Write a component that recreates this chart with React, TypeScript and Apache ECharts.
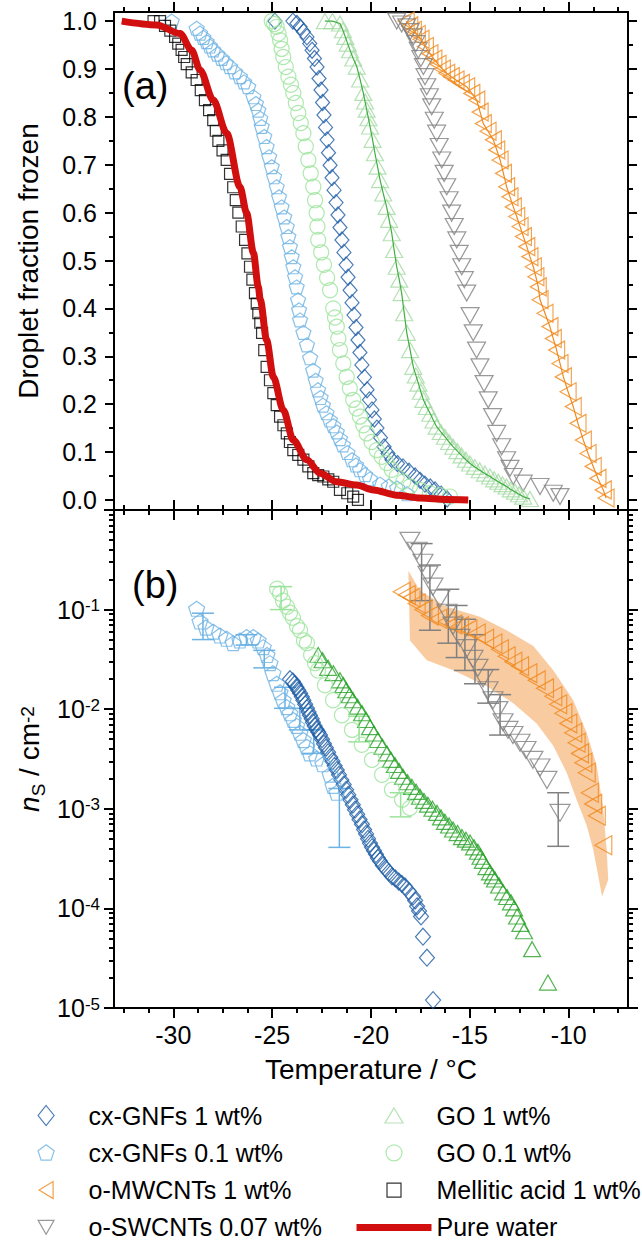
import React, { useEffect, useRef } from 'react';
import * as echarts from 'echarts';

const FONT = '"Liberation Sans", Arial, Helvetica, sans-serif';

// ---------------- tick values ----------------
const xMajorTicks = [-30, -25, -20, -15, -10];
const xMinorTicks = [-32.5, -31.25, -30, -28.75, -27.5, -26.25, -25, -23.75, -22.5, -21.25, -20, -18.75, -17.5, -16.25, -15, -13.75, -12.5, -11.25, -10, -8.75, -7.5];
const fracMajorTicks = [0, 0.1, 0.2, 0.3, 0.4, 0.5, 0.6, 0.7, 0.8, 0.9, 1.0];
const fracMinorTicks = [0.05, 0.15, 0.25, 0.35, 0.45, 0.55, 0.65, 0.75, 0.85, 0.95];
const nsDecades = [-5, -4, -3, -2, -1];
const nsMinorMantissas = [2, 3, 4, 5, 6, 7, 8, 9];

// ---------------- series names ----------------
const N_CX1 = 'cx-GNFs 1 wt%';
const N_CX01 = 'cx-GNFs 0.1 wt%';
const N_MW = 'o-MWCNTs 1 wt%';
const N_SW = 'o-SWCNTs 0.07 wt%';
const N_GO1 = 'GO 1 wt%';
const N_GO01 = 'GO 0.1 wt%';
const N_MA = 'Mellitic acid 1 wt%';
const N_PW = 'Pure water';

// ---------------- panel (a): [T (°C), droplet fraction frozen] ----------------
const cxGnf1A = [[-24.86,1.0],[-23.95,1.0],[-23.75,0.995],[-23.59,0.988],[-23.42,0.978],[-23.24,0.967],[-23.10,0.953],[-22.98,0.939],[-22.86,0.922],[-22.73,0.904],[-22.63,0.880],[-22.53,0.856],[-22.45,0.830],[-22.38,0.804],[-22.30,0.778],[-22.22,0.752],[-22.15,0.725],[-22.07,0.699],[-21.97,0.673],[-21.87,0.647],[-21.77,0.621],[-21.67,0.595],[-21.57,0.569],[-21.47,0.543],[-21.37,0.517],[-21.26,0.491],[-21.16,0.465],[-21.06,0.438],[-20.96,0.412],[-20.86,0.386],[-20.76,0.360],[-20.66,0.334],[-20.56,0.308],[-20.46,0.282],[-20.33,0.256],[-20.20,0.230],[-20.08,0.209],[-19.95,0.188],[-19.83,0.169],[-19.70,0.150],[-19.52,0.130],[-19.34,0.111],[-19.14,0.097],[-18.94,0.084],[-18.66,0.076],[-18.38,0.069],[-18.08,0.060],[-17.77,0.050],[-17.52,0.041],[-17.27,0.033],[-17.00,0.027],[-16.76,0.021],[-16.45,0.012],[-16.15,0.002]];

const cxGnf01A = [[-30.08,1.0],[-28.82,0.985],[-28.65,0.975],[-28.48,0.966],[-28.31,0.957],[-28.15,0.948],[-27.98,0.940],[-27.77,0.931],[-27.55,0.922],[-27.34,0.913],[-27.13,0.905],[-26.88,0.894],[-26.63,0.884],[-26.42,0.873],[-26.21,0.863],[-25.95,0.842],[-25.82,0.828],[-25.70,0.814],[-25.60,0.797],[-25.53,0.780],[-25.40,0.759],[-25.28,0.738],[-25.15,0.717],[-25.02,0.696],[-24.90,0.675],[-24.77,0.654],[-24.65,0.633],[-24.52,0.612],[-24.39,0.591],[-24.26,0.571],[-24.18,0.550],[-24.10,0.529],[-24.01,0.508],[-23.93,0.487],[-23.84,0.466],[-23.76,0.445],[-23.69,0.418],[-23.64,0.397],[-23.59,0.376],[-23.42,0.350],[-23.24,0.324],[-23.08,0.297],[-22.93,0.271],[-22.80,0.250],[-22.68,0.230],[-22.55,0.214],[-22.43,0.198],[-22.25,0.182],[-22.08,0.167],[-21.90,0.155],[-21.73,0.142],[-21.57,0.128],[-21.42,0.115],[-21.19,0.099],[-20.96,0.084],[-20.76,0.073],[-20.56,0.063],[-20.30,0.053],[-20.05,0.044],[-19.54,0.033],[-19.10,0.029],[-18.68,0.025],[-18.18,0.013]];

const mwA = [[-18.22,1.0],[-18.04,0.990],[-17.86,0.981],[-17.66,0.972],[-17.47,0.962],[-17.25,0.947],[-17.02,0.932],[-16.82,0.921],[-16.61,0.910],[-16.39,0.900],[-16.17,0.891],[-15.94,0.884],[-15.70,0.877],[-15.43,0.870],[-15.16,0.863],[-14.90,0.849],[-14.65,0.835],[-14.48,0.810],[-14.32,0.786],[-14.08,0.770],[-13.81,0.752],[-13.64,0.731],[-13.47,0.710],[-13.30,0.682],[-13.14,0.654],[-12.97,0.633],[-12.80,0.612],[-12.63,0.592],[-12.46,0.571],[-12.29,0.550],[-12.12,0.529],[-11.96,0.508],[-11.79,0.487],[-11.66,0.466],[-11.54,0.445],[-11.45,0.418],[-11.20,0.390],[-10.95,0.362],[-10.78,0.337],[-10.61,0.313],[-10.44,0.285],[-10.27,0.257],[-10.03,0.226],[-9.77,0.195],[-9.53,0.160],[-9.26,0.125],[-9.02,0.097],[-8.76,0.070],[-8.52,0.045],[-8.25,0.021],[-8.11,0.004]];

const swA = [[-18.70,1.0],[-18.45,0.994],[-18.19,0.988],[-18.02,0.978],[-17.86,0.967],[-17.73,0.953],[-17.61,0.939],[-17.48,0.922],[-17.35,0.905],[-17.27,0.884],[-17.18,0.863],[-17.05,0.842],[-16.93,0.821],[-16.80,0.793],[-16.68,0.766],[-16.55,0.738],[-16.42,0.710],[-16.30,0.682],[-16.17,0.654],[-16.05,0.627],[-15.92,0.599],[-15.79,0.571],[-15.66,0.543],[-15.54,0.515],[-15.41,0.487],[-15.28,0.460],[-15.16,0.432],[-14.99,0.385],[-14.83,0.349],[-14.66,0.313],[-14.49,0.278],[-14.28,0.243],[-14.07,0.209],[-13.85,0.174],[-13.64,0.139],[-13.39,0.111],[-13.14,0.084],[-12.97,0.066],[-12.80,0.049],[-12.30,0.035],[-11.45,0.028],[-10.78,0.014],[-10.44,0.007]];

const go1A = [[-22.33,1.0],[-21.95,1.0],[-21.57,0.995],[-21.42,0.981],[-21.30,0.967],[-21.18,0.953],[-21.06,0.939],[-20.90,0.922],[-20.72,0.905],[-20.55,0.878],[-20.39,0.850],[-20.30,0.832],[-20.22,0.815],[-20.13,0.797],[-20.05,0.780],[-19.92,0.752],[-19.80,0.724],[-19.67,0.696],[-19.54,0.668],[-19.38,0.640],[-19.21,0.612],[-19.08,0.585],[-18.95,0.557],[-18.83,0.522],[-18.70,0.487],[-18.57,0.460],[-18.45,0.432],[-18.32,0.390],[-18.19,0.349],[-18.02,0.313],[-17.86,0.278],[-17.73,0.260],[-17.60,0.243],[-17.48,0.226],[-17.35,0.209],[-17.18,0.194],[-17.00,0.180],[-16.84,0.166],[-16.68,0.153],[-16.47,0.142],[-16.26,0.132],[-16.05,0.121],[-15.84,0.111],[-15.63,0.102],[-15.42,0.093],[-15.20,0.084],[-14.99,0.076],[-14.75,0.069],[-14.50,0.062],[-14.24,0.055],[-13.98,0.049],[-13.77,0.043],[-13.56,0.038],[-13.35,0.033],[-13.14,0.028],[-12.93,0.022],[-12.72,0.017],[-12.51,0.012],[-12.30,0.007],[-11.96,0.002]];

const go01A = [[-25.02,1.0],[-24.90,0.994],[-24.77,0.988],[-24.68,0.974],[-24.60,0.960],[-24.52,0.942],[-24.44,0.925],[-24.31,0.904],[-24.18,0.884],[-24.05,0.867],[-23.93,0.850],[-23.80,0.829],[-23.68,0.808],[-23.55,0.787],[-23.42,0.766],[-23.30,0.738],[-23.17,0.710],[-23.05,0.682],[-22.92,0.654],[-22.83,0.626],[-22.75,0.599],[-22.71,0.571],[-22.67,0.543],[-22.52,0.517],[-22.38,0.491],[-22.22,0.464],[-22.07,0.438],[-21.91,0.400],[-21.82,0.381],[-21.73,0.362],[-21.65,0.337],[-21.57,0.313],[-21.40,0.285],[-21.23,0.257],[-21.07,0.233],[-20.90,0.209],[-20.73,0.191],[-20.56,0.174],[-20.39,0.156],[-20.22,0.139],[-19.97,0.121],[-19.71,0.104],[-19.46,0.090],[-19.21,0.077],[-18.95,0.063],[-18.70,0.049],[-18.37,0.038],[-18.03,0.028],[-17.52,0.021],[-17.02,0.014],[-16.50,0.010],[-16.01,0.007]];

const maA = [[-31.00,1.0],[-30.67,1.0],[-30.42,0.990],[-30.15,0.980],[-29.91,0.967],[-29.75,0.953],[-29.58,0.940],[-29.45,0.925],[-29.32,0.910],[-29.07,0.893],[-28.82,0.877],[-28.61,0.856],[-28.40,0.835],[-28.19,0.814],[-27.98,0.793],[-27.85,0.771],[-27.72,0.750],[-27.51,0.730],[-27.30,0.710],[-27.13,0.681],[-26.97,0.653],[-26.84,0.626],[-26.71,0.600],[-26.54,0.571],[-26.37,0.543],[-26.25,0.515],[-26.12,0.487],[-26.00,0.460],[-25.87,0.432],[-25.78,0.410],[-25.70,0.390],[-25.60,0.370],[-25.51,0.349],[-25.40,0.313],[-25.28,0.278],[-25.11,0.250],[-24.94,0.223],[-24.77,0.198],[-24.60,0.174],[-24.43,0.156],[-24.26,0.139],[-24.10,0.121],[-23.93,0.104],[-23.68,0.094],[-23.42,0.084],[-23.17,0.070],[-22.92,0.056],[-22.67,0.052],[-22.41,0.049],[-22.16,0.043],[-21.91,0.038],[-21.57,0.021],[-21.20,0.014],[-20.90,0.007],[-20.66,0.0]];

const pwA = [[-32.61,1.0],[-30.84,0.992],[-29.66,0.974],[-29.07,0.939],[-28.65,0.898],[-27.98,0.835],[-27.30,0.766],[-26.63,0.654],[-26.29,0.599],[-25.95,0.516],[-25.70,0.445],[-25.60,0.418],[-25.28,0.334],[-24.94,0.257],[-24.44,0.188],[-23.93,0.125],[-23.25,0.084],[-22.58,0.056],[-21.74,0.038],[-20.72,0.031],[-19.88,0.021],[-18.70,0.010],[-17.52,0.004],[-16.17,0.001],[-15.08,0.0]];

// ---------------- panel (b): [T (°C), n_s (cm^-2)] ----------------
const cxGnf01B = [[-28.82,0.102],[-28.65,0.076],[-28.35,0.066],[-27.98,0.060],[-27.64,0.055],[-27.30,0.051],[-26.97,0.046],[-26.63,0.049],[-26.29,0.053],[-25.95,0.053],[-25.71,0.049],[-25.45,0.042],[-25.26,0.035],[-25.11,0.029],[-24.96,0.023],[-24.77,0.018],[-24.60,0.0148],[-24.44,0.0123],[-24.26,0.0105],[-24.10,0.0091],[-23.93,0.0078],[-23.76,0.0068],[-23.59,0.0058],[-23.42,0.0049],[-23.25,0.0042],[-23.09,0.0036],[-22.75,0.0032],[-22.43,0.0028],[-22.07,0.0022],[-21.92,0.0017],[-21.73,0.00145]];

const cxGnf1B = [[-24.10,0.020],[-23.95,0.019],[-23.86,0.0178],[-23.77,0.0166],[-23.68,0.0155],[-23.59,0.0145],[-23.50,0.0133],[-23.42,0.0123],[-23.33,0.0112],[-23.24,0.0102],[-23.16,0.0094],[-23.09,0.0087],[-23.00,0.0080],[-22.94,0.0074],[-22.85,0.0068],[-22.76,0.0063],[-22.67,0.0059],[-22.58,0.0055],[-22.48,0.0050],[-22.38,0.0045],[-22.28,0.0041],[-22.17,0.0037],[-22.06,0.0033],[-21.95,0.0030],[-21.84,0.0027],[-21.73,0.00245],[-21.62,0.0022],[-21.50,0.00195],[-21.38,0.00175],[-21.26,0.00155],[-21.15,0.00138],[-21.04,0.00123],[-20.92,0.0011],[-20.81,0.00098],[-20.70,0.00088],[-20.58,0.00078],[-20.46,0.00070],[-20.35,0.00062],[-20.25,0.00056],[-20.15,0.00050],[-20.05,0.00045],[-19.95,0.00041],[-19.85,0.00038],[-19.75,0.00035],[-19.65,0.00032],[-19.55,0.00030],[-19.40,0.00027],[-19.25,0.00025],[-19.10,0.00023],[-18.94,0.00021],[-18.77,0.00020],[-18.60,0.000186],[-18.44,0.000176],[-18.28,0.000166],[-18.08,0.000148],[-17.87,0.000132],[-17.77,0.00012],[-17.67,0.000105],[-17.57,0.000094],[-17.47,0.000083],[-17.37,0.000052],[-17.17,0.000032],[-16.86,0.000012]];

const go01B = [[-24.75,0.162],[-24.60,0.145],[-24.45,0.123],[-24.25,0.107],[-24.10,0.093],[-23.95,0.083],[-23.74,0.068],[-23.59,0.062],[-23.39,0.049],[-23.24,0.046],[-23.03,0.035],[-22.83,0.029],[-22.68,0.0245],[-22.33,0.0174],[-21.92,0.0123],[-21.47,0.0087],[-20.96,0.0062],[-20.46,0.0044],[-19.95,0.0031],[-19.44,0.0022],[-18.94,0.00155],[-18.43,0.00123],[-18.03,0.00102]];

const go1B = [[-22.67,0.035],[-22.45,0.031],[-22.17,0.026],[-21.90,0.023],[-21.57,0.0195],[-21.40,0.0175],[-21.25,0.0155],[-21.08,0.0138],[-20.91,0.0123],[-20.68,0.0106],[-20.45,0.0091],[-20.25,0.0078],[-20.05,0.0066],[-19.85,0.0057],[-19.65,0.0049],[-19.42,0.0042],[-19.19,0.0036],[-18.99,0.0031],[-18.79,0.00275],[-18.58,0.0024],[-18.38,0.0021],[-18.15,0.00185],[-17.93,0.00166],[-17.72,0.00148],[-17.52,0.00132],[-17.32,0.0012],[-17.12,0.0011],[-16.89,0.0010],[-16.66,0.00091],[-16.46,0.00082],[-16.26,0.00074],[-16.05,0.00068],[-15.85,0.00062],[-15.62,0.00057],[-15.40,0.00052],[-15.20,0.00049],[-14.99,0.00046],[-14.79,0.00041],[-14.59,0.00037],[-14.46,0.00033],[-14.34,0.00030],[-14.16,0.00026],[-13.98,0.00023],[-13.85,0.00021],[-13.73,0.000195],[-13.52,0.00017],[-13.32,0.000145],[-13.12,0.00013],[-12.92,0.000115],[-12.76,0.0001],[-12.61,0.000083],[-12.44,0.00007],[-12.26,0.000059],[-11.85,0.000039],[-11.05,0.000018]];

const swB = [[-18.03,0.49],[-17.67,0.39],[-17.37,0.295],[-17.12,0.224],[-16.87,0.17],[-16.51,0.129],[-16.16,0.093],[-15.85,0.069],[-15.50,0.052],[-15.14,0.041],[-14.84,0.032],[-14.59,0.026],[-14.33,0.0204],[-14.08,0.0155],[-13.83,0.0123],[-13.58,0.0098],[-13.32,0.0074],[-13.07,0.0062],[-12.82,0.0055],[-12.46,0.0046],[-12.16,0.0039],[-11.81,0.0031],[-11.45,0.0026],[-11.10,0.00195],[-10.44,0.00091]];

const mwB = [[-18.45,0.151],[-18.19,0.140],[-17.95,0.132],[-17.69,0.115],[-17.35,0.100],[-17.02,0.087],[-16.60,0.081],[-16.17,0.076],[-15.84,0.071],[-15.50,0.068],[-15.08,0.063],[-14.65,0.0575],[-14.23,0.051],[-13.81,0.0457],[-13.48,0.040],[-13.14,0.034],[-12.80,0.030],[-12.46,0.027],[-12.04,0.023],[-11.62,0.0195],[-11.20,0.0162],[-10.78,0.0135],[-10.53,0.0112],[-10.27,0.0091],[-10.02,0.0072],[-9.77,0.0058],[-9.60,0.0046],[-9.43,0.0036],[-9.26,0.0029],[-9.09,0.0023],[-8.93,0.00145],[-8.76,0.00112],[-8.58,0.00085],[-8.25,0.00043]];

// o-MWCNTs uncertainty band (upper edge incl. tip, lower edge)
const mwBandUpper = [[-18.11,0.245],[-17.52,0.155],[-16.17,0.107],[-14.49,0.085],[-13.14,0.062],[-11.79,0.043],[-10.78,0.0246],[-9.77,0.0123],[-9.09,0.0058],[-8.58,0.0027],[-8.25,0.00098],[-8.08,0.00039],[-8.00,0.000195],[-8.31,0.000132]];
const mwBandLower = [[-18.03,0.049],[-17.18,0.031],[-15.84,0.0246],[-14.15,0.017],[-12.80,0.0115],[-11.62,0.0072],[-10.78,0.0043],[-10.10,0.0023],[-9.60,0.00123],[-9.09,0.00068],[-8.76,0.00039],[-8.52,0.00022]];

// error bars: [T, low, high]
const cxGnf01Err = [[-28.50,0.050,0.092],[-26.30,0.044,0.056],[-25.40,0.026,0.039],[-24.35,0.0102,0.0166],[-23.60,0.0062,0.0102],[-22.90,0.0036,0.0062],[-21.60,0.00041,0.0016]];
const go01Err = [[-24.55,0.100,0.170],[-20.60,0.0047,0.0085],[-18.50,0.00083,0.00145]];
const swErr = [[-17.44,0.123,0.46],[-17.02,0.062,0.28],[-16.09,0.046,0.16],[-15.67,0.033,0.11],[-15.25,0.0245,0.080],[-14.74,0.018,0.056],[-14.07,0.0115,0.025],[-13.47,0.0055,0.014],[-10.53,0.00042,0.00145]];

// ---------------- styling ----------------
const COL = {
  cx1: '#1c5ba4', cx01: '#6cb2e4', mw: '#f08a1d', sw: '#808080',
  go1A: '#a3d9a3', go1Line: '#40ad40', go1B: '#27a127', go01: '#9be39b',
  ma: '#000000', pw: '#d20f0f', band: '#f8c291',
};
const PENTAGON = 'path://M50,0L97.6,34.5L79.4,90.5L20.6,90.5L2.4,34.5Z';
const TRI_LEFT = 'path://M0,50L86.6,0L86.6,100Z';
const TRI_DOWN = 'path://M0,0L100,0L50,86.6Z';

// legend icons drawn inside a 75 x 20 box (zero-length corner segments fix the box)
const BOX = 'M0,0L0,0M75,20L75,20';
const ICON_DIAMOND = `path://${BOX}M37.5,0L45.5,10L37.5,20L29.5,10Z`;
const ICON_PENTAGON = `path://${BOX}M37.5,2L45.6,7.9L42.5,17.4L32.5,17.4L29.4,7.9Z`;
const ICON_TRI_LEFT = `path://${BOX}M30.5,10L44.5,1.5L44.5,18.5Z`;
const ICON_TRI_DOWN = `path://${BOX}M29.5,3L45.5,3L37.5,17Z`;
const ICON_TRI_UP = `path://${BOX}M37.5,2.5L46.5,17.5L28.5,17.5Z`;
const ICON_CIRCLE = `path://${BOX}M29.5,10A8,8 0 1,1 45.5,10A8,8 0 1,1 29.5,10Z`;
const ICON_SQUARE = `path://${BOX}M30.5,3L44.5,3L44.5,17L30.5,17Z`;

function hollow(color: string, w = 1.2) {
  return { color: 'rgba(0,0,0,0)', borderColor: color, borderWidth: w };
}

function scatter(name: string, data: number[][], symbol: string, size: any, color: string, panel: number, extra: any = {}) {
  return {
    type: 'scatter', name, data, symbol, symbolSize: size,
    xAxisIndex: panel === 0 ? 0 : 4, yAxisIndex: panel === 0 ? 0 : 4,
    itemStyle: hollow(color), emphasis: { disabled: true }, silent: true, z: 3, ...extra,
  };
}

function xAx(grid: number, position: string, ticks: number[], len: number, showLine: boolean, extra: any = {}) {
  return {
    type: 'value', gridIndex: grid, position, min: -33, max: -7,
    axisLine: { show: showLine, onZero: false, lineStyle: { color: '#000', width: 2 } },
    axisTick: { show: true, inside: false, length: len, customValues: ticks, lineStyle: { color: '#000', width: 2 } },
    axisLabel: { show: false }, splitLine: { show: false }, silent: true,
    ...extra,
  };
}

function yFrac(position: string, ticks: number[], len: number, showLine: boolean, extra: any = {}) {
  return {
    type: 'value', gridIndex: 0, position, min: -0.021, max: 1.019,
    axisLine: { show: showLine, onZero: false, lineStyle: { color: '#000', width: 2 } },
    axisTick: { show: true, inside: false, length: len, customValues: ticks, lineStyle: { color: '#000', width: 2 } },
    axisLabel: { show: false }, splitLine: { show: false }, silent: true,
    ...extra,
  };
}

function yLog(position: string, extra: any = {}) {
  return {
    type: 'log', logBase: 10, gridIndex: 1, position, min: 0.00001, max: 1,
    axisLine: { show: true, onZero: false, lineStyle: { color: '#000', width: 2 } },
    axisTick: { show: true, inside: false, length: 10, lineStyle: { color: '#000', width: 2 } },
    axisLabel: { show: false }, splitLine: { show: false }, minorTick: { show: false }, silent: true,
    ...extra,
  };
}

function yLogMinor(position: string, ticks: number[]) {
  return {
    type: 'value', gridIndex: 1, position, min: -5, max: 0,
    axisLine: { show: false, onZero: false },
    axisTick: { show: true, inside: false, length: 5, customValues: ticks, lineStyle: { color: '#000', width: 2 } },
    axisLabel: { show: false }, splitLine: { show: false }, silent: true,
  };
}

function errorBars(name: string, data: number[][], color: string) {
  return {
    type: 'custom', name, xAxisIndex: 4, yAxisIndex: 4, data, clip: true, silent: true, z: 2,
    encode: { x: 0, y: [1, 2] },
    renderItem: (_params: any, api: any) => {
      const t = api.value(0);
      const lo = api.coord([t, api.value(1)]);
      const hi = api.coord([t, api.value(2)]);
      const hw = 11;
      const st = { stroke: color, lineWidth: 1.5 };
      return {
        type: 'group',
        children: [
          { type: 'line', shape: { x1: lo[0], y1: lo[1], x2: hi[0], y2: hi[1] }, style: st },
          { type: 'line', shape: { x1: lo[0] - hw, y1: lo[1], x2: lo[0] + hw, y2: lo[1] }, style: st },
          { type: 'line', shape: { x1: hi[0] - hw, y1: hi[1], x2: hi[0] + hw, y2: hi[1] }, style: st },
        ],
      };
    },
  };
}

function buildOption(): any {
  const logMinor: number[] = [];
  nsDecades.forEach((d) => nsMinorMantissas.forEach((m) => logMinor.push(d + Math.log10(m))));

  const supRich = {
    b: { fontSize: 25, fontFamily: FONT, color: '#000', lineHeight: 25, verticalAlign: 'bottom' },
    s: { fontSize: 17, fontFamily: FONT, color: '#000', lineHeight: 17, padding: [0, 0, 14, 0], verticalAlign: 'top' },
  };

  const nameRich = {
    i: { fontSize: 28, fontFamily: FONT, fontStyle: 'italic', color: '#000', lineHeight: 30, padding: [0, 0, 5, 0], verticalAlign: 'bottom' },
    r: { fontSize: 28, fontFamily: FONT, color: '#000', lineHeight: 30, padding: [0, 0, 5, 0], verticalAlign: 'bottom' },
    sub: { fontSize: 19, fontFamily: FONT, color: '#000', lineHeight: 19, verticalAlign: 'bottom' },
    sup: { fontSize: 19, fontFamily: FONT, color: '#000', lineHeight: 19, padding: [0, 0, 26, 0], verticalAlign: 'top' },
  };

  const legendBase = {
    orient: 'vertical', top: 1103, height: 170, padding: 0, itemWidth: 75, itemHeight: 20, itemGap: 12.3,
    selectedMode: false,
    textStyle: { fontSize: 25, fontFamily: FONT, color: '#000', lineHeight: 25 },
    itemStyle: { borderWidth: 1.2 },
  };

  return {
    animation: false,
    backgroundColor: '#ffffff',
    textStyle: { fontFamily: FONT },
    grid: [
      { left: 114, top: 12, width: 514, height: 498, containLabel: false, outerBoundsMode: 'none' },
      { left: 114, top: 510, width: 514, height: 498, containLabel: false, outerBoundsMode: 'none' },
    ],
    xAxis: [
      xAx(0, 'bottom', xMajorTicks, 10, true),
      xAx(0, 'bottom', xMinorTicks, 5, false),
      xAx(0, 'top', xMajorTicks, 10, true),
      xAx(0, 'top', xMinorTicks, 5, false),
      xAx(1, 'bottom', xMajorTicks, 10, true, {
        axisLabel: { show: true, customValues: xMajorTicks, fontSize: 25, fontFamily: FONT, color: '#000', margin: 14, lineHeight: 25 },
        name: 'Temperature / °C', nameLocation: 'middle', nameGap: 47, nameMoveOverlap: false,
        nameTextStyle: { fontSize: 28, fontFamily: FONT, color: '#000', lineHeight: 28 },
      }),
      xAx(1, 'bottom', xMinorTicks, 5, false),
      xAx(1, 'top', xMajorTicks, 10, true),
      xAx(1, 'top', xMinorTicks, 5, false),
    ],
    yAxis: [
      yFrac('left', fracMajorTicks, 9, true, {
        axisLabel: { show: true, customValues: fracMajorTicks, formatter: (v: number) => v.toFixed(1), fontSize: 25, fontFamily: FONT, color: '#000', margin: 17 },
        name: 'Droplet fraction frozen', nameLocation: 'middle', nameGap: 72, nameMoveOverlap: false,
        nameTextStyle: { fontSize: 28, fontFamily: FONT, color: '#000', lineHeight: 28 },
      }),
      yFrac('left', fracMinorTicks, 5, false),
      yFrac('right', fracMajorTicks, 9, true),
      yFrac('right', fracMinorTicks, 5, false),
      yLog('left', {
        axisLabel: {
          show: true, margin: 14,
          formatter: (v: number) => {
            const e = Math.round(Math.log10(v));
            return e === 0 ? '' : `{b|10}{s|${e}}`;
          },
          rich: supRich,
        },
        name: '{i|n}{sub|S}{r| / cm}{sup|-2}', nameLocation: 'middle', nameGap: 66, nameMoveOverlap: false,
        nameTextStyle: { fontSize: 28, fontFamily: FONT, color: '#000', rich: nameRich },
      }),
      yLogMinor('left', logMinor),
      yLog('right'),
      yLogMinor('right', logMinor),
    ],
    legend: [
      {
        ...legendBase, left: 8,
        data: [
          { name: N_CX1, icon: ICON_DIAMOND },
          { name: N_CX01, icon: ICON_PENTAGON },
          { name: N_MW, icon: ICON_TRI_LEFT },
          { name: N_SW, icon: ICON_TRI_DOWN },
        ],
      },
      {
        ...legendBase, left: 353,
        data: [
          { name: N_GO1, icon: ICON_TRI_UP },
          { name: N_GO01, icon: ICON_CIRCLE },
          { name: N_MA, icon: ICON_SQUARE },
          { name: N_PW, lineStyle: { width: 7 }, itemStyle: { opacity: 0, borderWidth: 0 } },
        ],
      },
    ],
    graphic: [
      { type: 'text', left: 122, top: 67, silent: true, style: { text: '(a)', fontSize: 38, fontFamily: FONT, fill: '#000' } },
      { type: 'text', left: 132, top: 566, silent: true, style: { text: '(b)', fontSize: 38, fontFamily: FONT, fill: '#000' } },
    ],
    series: [
      // ---- panel (a)
      scatter(N_CX1, cxGnf1A, 'diamond', [14, 16], COL.cx1, 0),
      scatter(N_CX01, cxGnf01A, PENTAGON, [15, 14], COL.cx01, 0),
      scatter(N_MW, mwA, TRI_LEFT, [16, 18], COL.mw, 0),
      scatter(N_SW, swA, TRI_DOWN, [18, 16], COL.sw, 0),
      scatter(N_GO1, go1A, 'triangle', [17, 15], COL.go1A, 0),
      scatter(N_GO01, go01A, 'circle', 15, COL.go01, 0),
      scatter(N_MA, maA, 'rect', 11, COL.ma, 0),
      {
        type: 'line', name: N_PW, data: pwA, xAxisIndex: 0, yAxisIndex: 0, symbol: 'none',
        smooth: 0.3, smoothMonotone: 'x', lineStyle: { color: COL.pw, width: 7 }, itemStyle: { color: COL.pw },
        z: 6, silent: true, emphasis: { disabled: true },
      },
      {
        type: 'line', name: 'GO 1 wt% trace', data: go1A, xAxisIndex: 0, yAxisIndex: 0, symbol: 'none',
        lineStyle: { color: COL.go1Line, width: 1.2 }, z: 4, silent: true, emphasis: { disabled: true },
      },
      {
        type: 'line', name: 'o-MWCNTs trace', data: mwA, xAxisIndex: 0, yAxisIndex: 0, symbol: 'none',
        lineStyle: { color: COL.mw, width: 1.2 }, z: 4, silent: true, emphasis: { disabled: true },
      },
      // ---- panel (b)
      {
        type: 'custom', name: 'o-MWCNTs band', xAxisIndex: 4, yAxisIndex: 4, clip: true, silent: true, z: 1,
        data: [mwBandUpper[0]], encode: { x: 0, y: 1 },
        renderItem: (_params: any, api: any) => {
          const pts = mwBandUpper.map((p) => api.coord(p)).concat(mwBandLower.slice().reverse().map((p) => api.coord(p)));
          return { type: 'polygon', shape: { points: pts }, style: { fill: COL.band, opacity: 0.85 } };
        },
      },
      errorBars('cx-GNFs 0.1 err', cxGnf01Err, COL.cx01),
      errorBars('GO 0.1 err', go01Err, COL.go01),
      errorBars('o-SWCNTs err', swErr, COL.sw),
      scatter(N_CX1, cxGnf1B, 'diamond', [15, 17], COL.cx1, 1),
      scatter(N_CX01, cxGnf01B, PENTAGON, [16, 15], COL.cx01, 1),
      scatter(N_MW, mwB, TRI_LEFT, [17, 19], COL.mw, 1),
      scatter(N_SW, swB, TRI_DOWN, [20, 17], COL.sw, 1),
      scatter(N_GO1, go1B, 'triangle', [17, 15], COL.go1B, 1),
      scatter(N_GO01, go01B, 'circle', 15, COL.go01, 1),
    ],
  };
}

export default function App() {
  const ref = useRef<HTMLDivElement>(null);
  useEffect(() => {
    if (!ref.current) return;
    const chart = echarts.init(ref.current, undefined, { renderer: 'svg' });
    chart.setOption(buildOption());
    return () => {
      chart.dispose();
    };
  }, []);
  return (
    <div
      ref={ref}
      style={{ position: 'absolute', left: 0, top: 0, width: 642, height: 1240, background: '#ffffff' }}
    />
  );
}
